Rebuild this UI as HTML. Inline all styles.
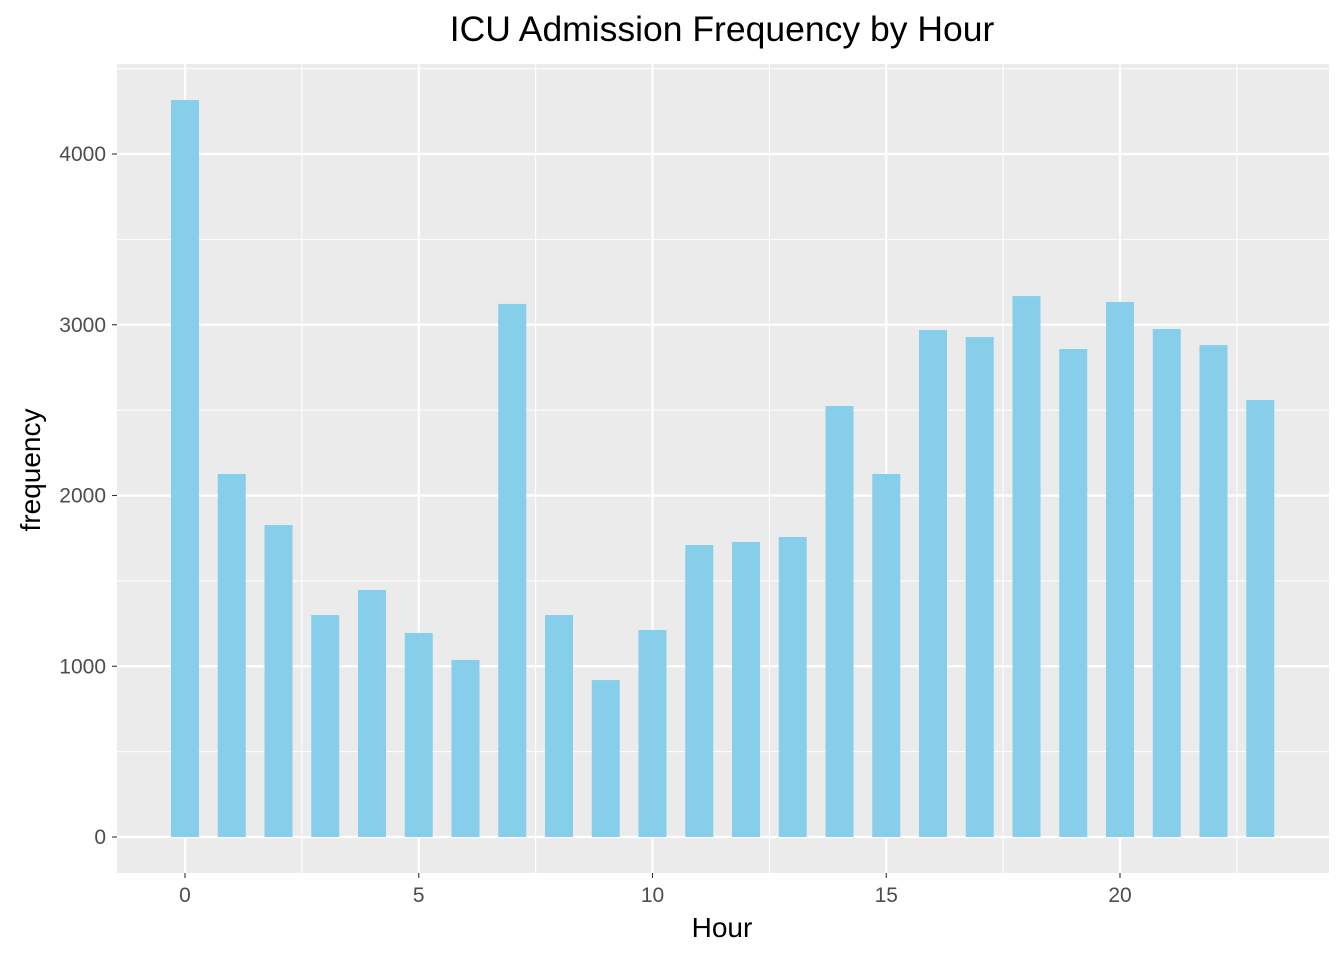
<!DOCTYPE html>
<html><head><meta charset="utf-8"><style>
body{margin:0;background:#fff;font-family:"Liberation Sans",sans-serif}
</style></head><body>
<svg id="chart" width="1344" height="960" xmlns="http://www.w3.org/2000/svg">
<rect width="1344" height="960" fill="#fff"/>
<rect x="117" y="64" width="1212" height="809" fill="#ebebeb"/>
<g id="grid"></g><g id="bars"></g><g id="axes"></g>
<text x="722" y="41" text-anchor="middle" font-size="35.5" fill="#000">ICU Admission Frequency by Hour</text>
<text x="722" y="937" text-anchor="middle" font-size="28" fill="#000">Hour</text>
<text transform="translate(40,470) rotate(-90)" text-anchor="middle" font-size="28" fill="#000">frequency</text>
</svg>
<script>
const hours=[0,1,2,3,4,5,6,7,8,9,10,11,12,13,14,15,16,17,18,19,20,21,22,23];
const freq=[4316,2126,1827,1300,1447,1195,1037,3122,1300,919,1212,1710,1728,1757,2524,2126,2969,2928,3168,2858,3133,2975,2881,2559];
const xTicks=[0,5,10,15,20];
const yTicks=[0,1000,2000,3000,4000];
const NS="http://www.w3.org/2000/svg";
const x=h=>185+h*46.75;
const y=v=>837-v*0.17075;
function mk(tag,attrs,parent){const e=document.createElementNS(NS,tag);for(const k in attrs)e.setAttribute(k,attrs[k]);parent.appendChild(e);return e;}
const grid=document.getElementById('grid'),bars=document.getElementById('bars'),axes=document.getElementById('axes');
for(let v=-500;v<=4500;v+=500){const yy=y(v);if(yy<64||yy>873)continue;
 const l=mk('line',{x1:117,x2:1329,y1:yy,y2:yy,stroke:'#fff','stroke-width':v%1000===0?2.2:1.1},grid);
 
 }
for(let h=-2.5;h<=25;h+=2.5){const xx=x(h);if(xx<117||xx>1329)continue;
 const l=mk('line',{x1:xx,x2:xx,y1:64,y2:873,stroke:'#fff','stroke-width':h%5===0?2.2:1.1},grid);
 
 }
hours.forEach((h,i)=>{const r=mk('rect',{x:x(h)-14,y:y(freq[i]),width:28,height:y(0)-y(freq[i]),fill:'#87ceeb'},bars);
 
 });
yTicks.forEach(v=>{const yy=y(v);
 const t=mk('line',{x1:112,x2:117,y1:yy,y2:yy,stroke:'#333','stroke-width':1.1},axes);
 
 
 const tx=mk('text',{x:106,y:yy+7,'text-anchor':'end','font-size':21,fill:'#4d4d4d'},axes);tx.textContent=v;
 
 });
xTicks.forEach(h=>{const xx=x(h);
 const t=mk('line',{x1:xx,x2:xx,y1:873,y2:878,stroke:'#333','stroke-width':1.1},axes);
 
 
 const tx=mk('text',{x:xx,y:902,'text-anchor':'middle','font-size':21,fill:'#4d4d4d'},axes);tx.textContent=h;
 
 });
</script>
</body></html>
